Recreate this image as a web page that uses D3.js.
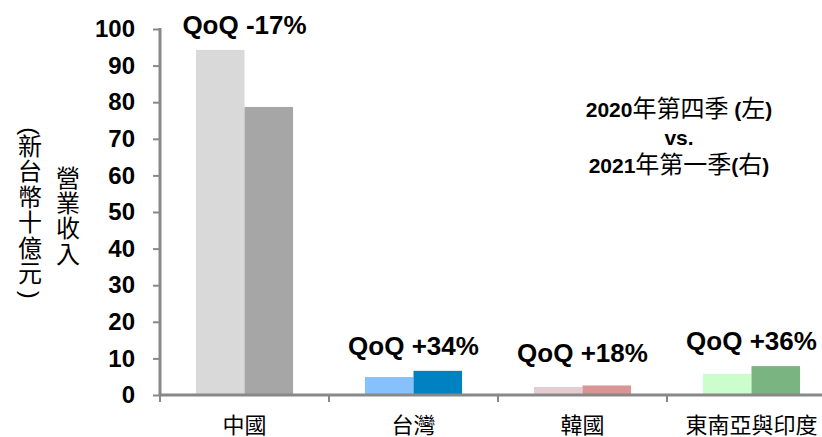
<!DOCTYPE html>
<html>
<head>
<meta charset="utf-8">
<script src="https://cdn.jsdelivr.net/npm/d3@7"></script>
<style>
  body { margin: 0; background: #fff; }
  svg { display: block; }
</style>
</head>
<body>
<div id="container"></div>
<script>
// 營業收入 (新台幣十億元): 2020年第四季 vs 2021年第一季
const categories = ["中國", "台灣", "韓國", "東南亞與印度"];
const series = ["2020Q4", "2021Q1"];
const q4_2020 = [94.3, 4.9, 2.2, 5.8];
const q1_2021 = [78.7, 6.6, 2.6, 7.9];
const qoqLabels = ["QoQ -17%", "QoQ +34%", "QoQ +18%", "QoQ +36%"];
const yTicks = [0, 10, 20, 30, 40, 50, 60, 70, 80, 90, 100];
const legendLines = ["2020年第四季 (左)", "vs.", "2021年第一季(右)"];
const yTitleMain = "營業收入";
const yTitleUnit = "新台幣十億元";

const colors = [
	["#d9d9d9", "#a6a6a6"],
	["#87c1fb", "#0081c1"],
	["#e4ccd0", "#d99594"],
	["#ccfdcc", "#79b481"]
];

const W = 822, H = 437;
const LEFT = 160, BOTTOM = 395, TOP = 29, STEP = 169;
const LATIN = "'Liberation Sans', Arial, Helvetica, sans-serif";
const CJK = "'Noto Sans CJK TC', 'Noto Sans CJK SC', sans-serif";

const svg = d3.select("#container").append("svg")
	.attr("width", W)
	.attr("height", H);

const x0 = d3.scaleBand()
	.domain(categories)
	.range([LEFT, LEFT + STEP * categories.length])
	.padding(0);

const x1 = d3.scaleBand()
	.domain(series)
	.range([0, x0.bandwidth()])
	.paddingInner(0)
	.paddingOuter(0.74);

const y = d3.scaleLinear()
	.domain([0, 100])
	.range([BOTTOM, TOP]);

const rows = categories.map((c, i) => ({
	cat: c, i: i, vals: [q4_2020[i], q1_2021[i]], label: qoqLabels[i]
}));

// bars
const groups = svg.selectAll("g.cat").data(rows)
	.enter()
	.append("g")
	.attr("class", "cat")
	.attr("transform", d => `translate(${x0(d.cat)},0)`);

groups.selectAll("rect")
	.data(d => d.vals.map((v, k) => ({ v: v, k: k, i: d.i })))
	.enter()
	.append("rect")
	.attr("x", d => x1(series[d.k]))
	.attr("y", d => y(d.v))
	.attr("width", x1.bandwidth())
	.attr("height", d => y(0) - y(d.v))
	.attr("fill", d => colors[d.i][d.k]);

// axes
const yAxis = d3.axisLeft(y)
	.tickValues(yTicks)
	.tickSize(7)
	.tickPadding(18);

const gy = svg.append("g")
	.attr("transform", `translate(${LEFT},0)`)
	.call(yAxis);
gy.select(".domain").remove();
gy.selectAll(".tick line").attr("stroke", "#888").attr("stroke-width", 2);
gy.selectAll(".tick text")
	.attr("font-family", LATIN)
	.attr("font-weight", "bold")
	.attr("font-size", 24)
	.attr("fill", "#000");
gy.append("line")
	.attr("x1", 0).attr("x2", 0)
	.attr("y1", y(100) - 1).attr("y2", y(0) + 1)
	.attr("stroke", "#888").attr("stroke-width", 3);

const xAxis = d3.axisBottom(x0)
	.tickSize(0)
	.tickPadding(0)
	.tickFormat("");
const gx = svg.append("g")
	.attr("transform", `translate(0,${BOTTOM})`)
	.call(xAxis);
gx.select(".domain").remove();
gx.append("line")
	.attr("x1", LEFT).attr("x2", W)
	.attr("y1", 0).attr("y2", 0)
	.attr("stroke", "#888").attr("stroke-width", 3);
gx.selectAll("line.sep")
	.data(categories)
	.enter()
	.append("line")
	.attr("class", "sep")
	.attr("x1", d => x0(d)).attr("x2", d => x0(d))
	.attr("y1", 0).attr("y2", 7)
	.attr("stroke", "#888").attr("stroke-width", 2);

// category labels
svg.selectAll("text.cat")
	.data(categories)
	.enter()
	.append("text")
	.attr("class", "cat")
	.attr("x", d => x0(d) + x0.bandwidth() / 2)
	.attr("y", 433)
	.attr("text-anchor", "middle")
	.attr("font-family", CJK)
	.attr("font-size", 22)
	.attr("fill", "#000")
	.text(d => d);

// QoQ labels
svg.selectAll("text.qoq")
	.data(rows)
	.enter()
	.append("text")
	.attr("class", "qoq")
	.attr("x", d => x0(d.cat) + x0.bandwidth() / 2)
	.attr("y", d => Math.min(y(d3.max(d.vals)) - 16, 362))
	.attr("text-anchor", "middle")
	.attr("font-family", LATIN)
	.attr("font-weight", "bold")
	.attr("font-size", 26)
	.attr("fill", "#000")
	.text(d => d.label);

// y title: two vertical columns, stacked glyph by glyph
function vColumn(str, cx, cy, step) {
	const chars = Array.from(str);
	const t = svg.append("text")
		.attr("class", "ytitle")
		.attr("text-anchor", "middle")
		.attr("font-family", CJK)
		.attr("font-size", 24)
		.attr("fill", "#000");
	t.selectAll("tspan")
		.data(chars)
		.enter()
		.append("tspan")
		.attr("x", cx)
		.attr("y", (d, j) => cy + (j - (chars.length - 1) / 2) * step + 8.6)
		.text(d => d);
	return [cy - (chars.length - 1) / 2 * step, cy + (chars.length - 1) / 2 * step];
}
vColumn(yTitleMain, 68, 216, 25.3);
const unitEnds = vColumn(yTitleUnit, 30, 210, 25.5);

// turned parentheses around the unit column
svg.selectAll("text.paren")
	.data([["(", unitEnds[0] - 15], [")", unitEnds[1] + 21]])
	.enter()
	.append("text")
	.attr("class", "paren")
	.attr("transform", d => `translate(30,${d[1]}) rotate(90)`)
	.attr("text-anchor", "middle")
	.attr("dominant-baseline", "central")
	.attr("font-family", LATIN)
	.attr("font-size", 24)
	.attr("fill", "#000")
	.text(d => d[0]);

// legend note: latin bold, cjk larger
const isCJK = ch => /[\u3000-\u9fff\uff00-\uffef]/.test(ch);
function runs(str) {
	const out = [];
	for (const ch of str) {
		const c = isCJK(ch);
		if (out.length && out[out.length - 1].c === c) out[out.length - 1].t += ch;
		else out.push({ t: ch, c: c });
	}
	return out;
}

const note = svg.selectAll("text.note")
	.data(legendLines)
	.enter()
	.append("text")
	.attr("class", "note")
	.attr("x", 679)
	.attr("y", (d, i) => [117, 145, 173][i])
	.attr("text-anchor", "middle")
	.attr("fill", "#000");

note.selectAll("tspan")
	.data(d => runs(d))
	.enter()
	.append("tspan")
	.attr("font-family", d => d.c ? CJK : LATIN)
	.attr("font-weight", d => d.c ? "normal" : "bold")
	.attr("font-size", d => d.c ? 24 : 21)
	.text(d => d.t);
</script>
</body>
</html>
